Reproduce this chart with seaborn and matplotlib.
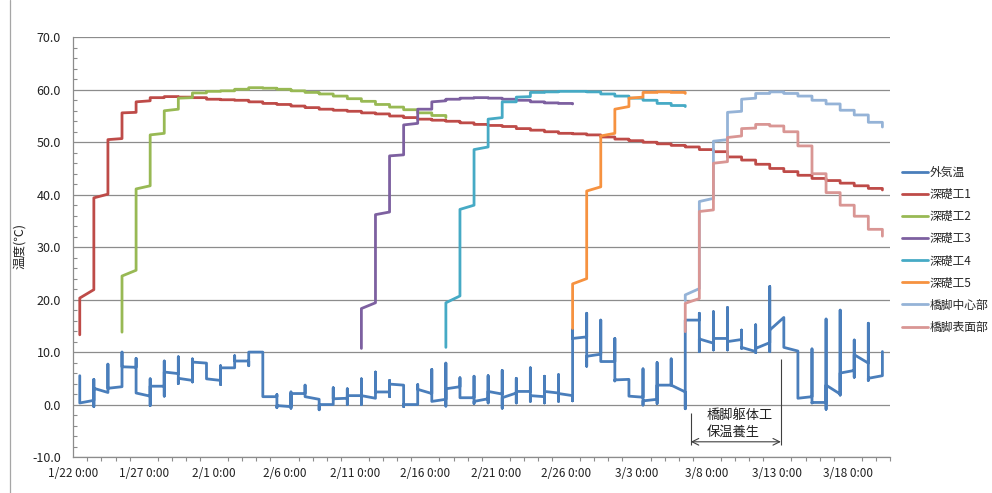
import pandas as pd
import matplotlib
matplotlib.use("Agg")
import matplotlib.pyplot as plt
import matplotlib.dates as mdates
from matplotlib.lines import Line2D
from matplotlib.ticker import MultipleLocator, FixedLocator, FuncFormatter
import seaborn as sns

# ---------------------------------------------------------------------------
# Readings: one entry per day (taken at 11:00); several values in one entry
# are successive readings logged at the same time stamp.
# ---------------------------------------------------------------------------
start_date = pd.Timestamp("2014-01-22")
end_date = pd.Timestamp("2014-03-21")
reading_hour = 11

series_names = ["外気温", "深礎工1", "深礎工2", "深礎工3", "深礎工4", "深礎工5",
                "橋脚中心部", "橋脚表面部"]
series_colors = ["#4A7EBB", "#BE4B48", "#98B954", "#7D60A0", "#46AAC5",
                 "#F69240", "#95B3D7", "#D99694"]

# first reading day of each series (days after 1/22)
first_day = [0, 0, 3, 20, 26, 35, 43, 43]

outdoor = [
    [5.5, 0.3], [0.8, 4.8, -0.4, 3.1], [2.3, 7.7, 3.1], [3.4, 10.0, 7.2],
    [7.1, 8.8, 2.2], [1.6, 4.9, -0.2, 3.5], [3.5, 8.3, 1.6, 6.2],
    [5.9, 9.1, 4.0, 5.0], [4.6, 8.7, 4.3, 8.1], [7.9, 4.9],
    [4.6, 7.4, 3.8, 7.0], [7.0, 9.3, 7.3, 8.3], [8.3, 7.4, 10.0],
    [10.0, 1.5], [1.5, 1.9, -0.6, -0.2], [-0.4, 2.4, -0.7, 2.1],
    [2.1, 3.7, 1.5], [1.0, -1.0, 0.0], [0.0, 3.2, 1.1], [1.2, 3.0, 0.0, 1.7],
    [1.7, 4.9, 0.0, 1.7], [1.2, 6.2, 2.4], [2.4, 4.6, 1.5, 3.9],
    [3.7, -0.4, 0.0], [0.0, 3.8, 2.9], [2.1, 6.7, 0.6], [1.0, 7.9, -0.3, 3.0],
    [3.4, 5.1, 1.3], [1.3, 5.4, 0.2, 0.6], [1.1, 5.5, 0.3, 2.5],
    [2.0, 6.5, -0.7, 1.3], [2.2, 5.0, 0.3, 2.5], [2.5, 7.0, 0.6, 1.7],
    [1.5, 5.4, 0.3, 2.5], [2.2, 5.7, 0.6, 2.1], [1.7, 0.7, 14.3, 12.6],
    [12.9, 17.4, 7.3, 9.2], [9.6, 16.1, 8.2], [8.2, 12.6, 4.5, 4.7],
    [4.8, 1.6], [1.4, 6.8, -0.1, 0.7], [1.0, 8.0, 0.2, 3.7], [3.7, 8.7, 3.7],
    [2.4, -0.8, 16.1], [16.1, 17.4, 10.1, 12.5], [11.7, 17.7, 10.4, 12.6],
    [12.6, 18.5, 10.4, 12.0], [12.4, 14.2, 10.7, 10.9],
    [10.1, 15.2, 9.9, 10.7], [11.8, 22.5, 10.1, 14.2], [16.6, 10.9],
    [10.2, 1.2], [1.5, 10.6, 0.3, 0.4], [0.4, 16.3, -0.9, 3.7],
    [2.0, 18.0, 1.8, 6.0], [6.5, 12.3, 5.2, 9.5], [7.9, 15.5, 4.6, 5.0],
    [5.5, 10.1],
]

pile1 = [
    [13.3, 20.3], [21.9, 39.4], [40.1, 50.5], [50.7, 55.6], [55.7, 57.7],
    [57.9, 58.5], [58.5, 58.7], [58.7, 58.6], [58.6, 58.5], [58.5, 58.2],
    [58.2, 58.1], [58.1, 58.0], [58.0, 57.7], [57.7, 57.4], [57.4, 57.2],
    [57.2, 56.9], [56.9, 56.6], [56.6, 56.3], [56.3, 56.1], [56.1, 55.9],
    [55.9, 55.6], [55.6, 55.4], [55.4, 55.0], [55.0, 54.7], [54.7, 54.4],
    [54.4, 54.2], [54.2, 54.0], [54.0, 53.7], [53.7, 53.4], [53.4, 53.2],
    [53.2, 53.0], [53.0, 52.6], [52.6, 52.3], [52.3, 52.0], [52.0, 51.7],
    [51.7, 51.6], [51.6, 51.4], [51.4, 51.0], [51.0, 50.6], [50.6, 50.3],
    [50.3, 50.0], [50.0, 49.7], [49.7, 49.4], [49.4, 49.1], [49.1, 48.6],
    [48.6, 48.2], [48.2, 47.2], [47.2, 46.6], [46.6, 45.8], [45.8, 45.0],
    [45.0, 44.4], [44.4, 43.7], [43.7, 43.1], [43.1, 42.7], [42.7, 42.2],
    [42.2, 41.7], [41.7, 41.2], [41.2, 40.9],
]

pile2 = [
    [13.8, 24.5], [25.6, 41.1], [41.7, 51.4], [51.7, 56.0], [56.3, 58.4],
    [58.5, 59.4], [59.4, 59.7], [59.7, 59.8], [59.8, 60.1], [60.1, 60.4],
    [60.4, 60.3], [60.3, 60.1], [60.1, 59.8], [59.8, 59.5], [59.5, 59.2],
    [59.2, 58.8], [58.8, 58.3], [58.3, 57.8], [57.8, 57.2], [57.2, 56.7],
    [56.7, 56.2], [56.2, 55.6], [55.6, 55.1], [55.1, 54.7],
]

pile3 = [
    [10.7, 18.3], [19.4, 36.2], [36.7, 47.4], [47.6, 53.3], [53.6, 56.3],
    [56.3, 57.7], [57.9, 58.2], [58.2, 58.4], [58.4, 58.5], [58.5, 58.4],
    [58.4, 58.2], [58.2, 58.0], [58.0, 57.7], [57.7, 57.5], [57.5, 57.4],
    [57.4, 57.3],
]

pile4 = [
    [10.9, 19.4], [20.7, 37.2], [38.0, 48.6], [49.1, 54.4], [54.7, 57.7],
    [57.7, 58.6], [58.7, 59.5], [59.5, 59.6], [59.6, 59.7], [59.7],
    [59.7, 59.6], [59.6, 59.2], [59.2, 58.8], [58.8, 58.4], [58.4, 58.0],
    [58.0, 57.4], [57.4, 57.0], [57.0, 56.8],
]

pile5 = [
    [14.5, 23.0], [24.0, 40.7], [41.5, 51.2], [51.7, 56.3], [56.8, 58.4],
    [58.6, 59.5], [59.5, 59.6], [59.6, 59.5], [59.5, 59.3],
]

pier_core = [
    [19.8, 20.9], [22.1, 38.7], [39.3, 50.2], [50.5, 55.7], [55.9, 58.2],
    [58.4, 59.3], [59.3, 59.6], [59.6, 59.3], [59.3, 58.8], [58.8, 58.0],
    [58.0, 57.3], [57.3, 56.1], [56.1, 55.2], [55.2, 53.8], [53.8, 52.9],
]

pier_surface = [
    [13.9, 19.3], [20.2, 36.8], [37.1, 46.0], [46.3, 50.9], [51.2, 52.6],
    [52.7, 53.4], [53.4, 53.1], [53.1, 52.0], [52.0, 49.3], [49.3, 44.0],
    [44.0, 40.4], [40.4, 38.0], [38.0, 35.9], [35.9, 33.4], [33.4, 32.1],
]

all_series = [outdoor, pile1, pile2, pile3, pile4, pile5, pier_core, pier_surface]

# Long-form table: one row per logged value, kept in logging order
rows = []
for name, day0, readings in zip(series_names, first_day, all_series):
    for k, values in enumerate(readings):
        t = start_date + pd.Timedelta(days=day0 + k, hours=reading_hour)
        for v in values:
            rows.append({"series": name, "time": t, "temp": v, "seq": len(rows)})
df = pd.DataFrame(rows)

# Curing period annotation (橋脚躯体工 保温養生)
curing_start = pd.Timestamp("2014-03-06 20:30")
curing_end = pd.Timestamp("2014-03-13 06:00")

# ---------------------------------------------------------------------------
sns.set_theme(style="white")
plt.rcParams["font.family"] = ["Noto Sans CJK JP", "DejaVu Sans"]

fig = plt.figure(figsize=(9.92, 4.93), dpi=100)
ax = fig.add_axes([0.0739, 0.073, 0.8233, 0.8513])

palette = dict(zip(series_names, series_colors))
sns.lineplot(data=df, x="time", y="temp", hue="series", hue_order=series_names,
             palette=palette, estimator=None, sort=False, linewidth=2.0,
             legend=False, ax=ax)

# axes styling
grid_c = "#8C8C8C"
ax.set_ylim(-10, 70)
ax.set_xlim(start_date, end_date)
ax.yaxis.set_major_locator(MultipleLocator(10))
ax.yaxis.set_minor_locator(MultipleLocator(2))
ax.yaxis.set_major_formatter(FuncFormatter(lambda v, p: f"{v:.1f}"))
ax.grid(axis="y", which="major", color=grid_c, linewidth=0.9)
ax.set_axisbelow(True)

major_days = pd.date_range(start_date, end_date, freq="5D")
ax.xaxis.set_major_locator(FixedLocator(mdates.date2num(major_days)))
ax.xaxis.set_minor_locator(mdates.DayLocator())
ax.xaxis.set_major_formatter(FuncFormatter(
    lambda v, p: (lambda d: f"{d.month}/{d.day} {d.hour}:{d.minute:02d}")(mdates.num2date(v))))

for side in ("top", "right"):
    ax.spines[side].set_visible(False)
for side in ("left", "bottom"):
    ax.spines[side].set_color(grid_c)
    ax.spines[side].set_linewidth(0.9)

ax.tick_params(axis="both", which="major", colors=grid_c,
               labelcolor="#222222", width=0.9)
ax.tick_params(axis="x", which="major", labelsize=8.5)
ax.tick_params(axis="y", which="major", labelsize=9, direction="out",
               length=4, pad=5)
ax.tick_params(axis="y", which="minor", direction="in", length=3, width=0.8,
               colors=grid_c, left=True)
ax.tick_params(axis="x", which="major", direction="inout", length=8, pad=3)
ax.tick_params(axis="x", which="minor", direction="out", length=3, width=0.8,
               colors=grid_c, bottom=True)
ax.set_xlabel("")
ax.set_ylabel("")

fig.text(20 / 992, 1 - 246 / 493, "温度(℃)", rotation=90, ha="center",
         va="center", fontsize=9, color="#222222")

# chart frame edge on the left
fig.add_artist(Line2D([9.5 / 992, 9.5 / 992], [0, 1], transform=fig.transFigure,
                      color="#A6A6A6", linewidth=0.9))

# legend
handles = [Line2D([], [], color=c, linewidth=2.0) for c in series_colors]
fig.legend(handles, series_names, loc="upper left",
           bbox_to_anchor=(902 / 992, 1 - 166 / 493), frameon=False,
           fontsize=8.5, borderpad=0, borderaxespad=0, handlelength=2.2,
           handletextpad=0.15, labelspacing=0.77)

# curing period bracket
ann_c = "#404040"
ax.vlines(curing_start, -7.7, -1.7, color=ann_c, linewidth=0.8)
ax.vlines(curing_end, -7.7, 8.6, color=ann_c, linewidth=0.8)
ax.annotate("", xy=(mdates.date2num(curing_start), -7.1),
            xytext=(mdates.date2num(curing_end), -7.1),
            arrowprops=dict(arrowstyle="<->", color=ann_c, linewidth=0.8,
                            shrinkA=0, shrinkB=0))
text_x = mdates.date2num(curing_start) + 1.15
ax.text(text_x, -2.0, "橋脚躯体工", ha="left", va="center", fontsize=9.5,
        color="#222222")
ax.text(text_x, -5.3, "保温養生", ha="left", va="center", fontsize=9.5,
        color="#222222")

fig.savefig("out.png", dpi=100)
